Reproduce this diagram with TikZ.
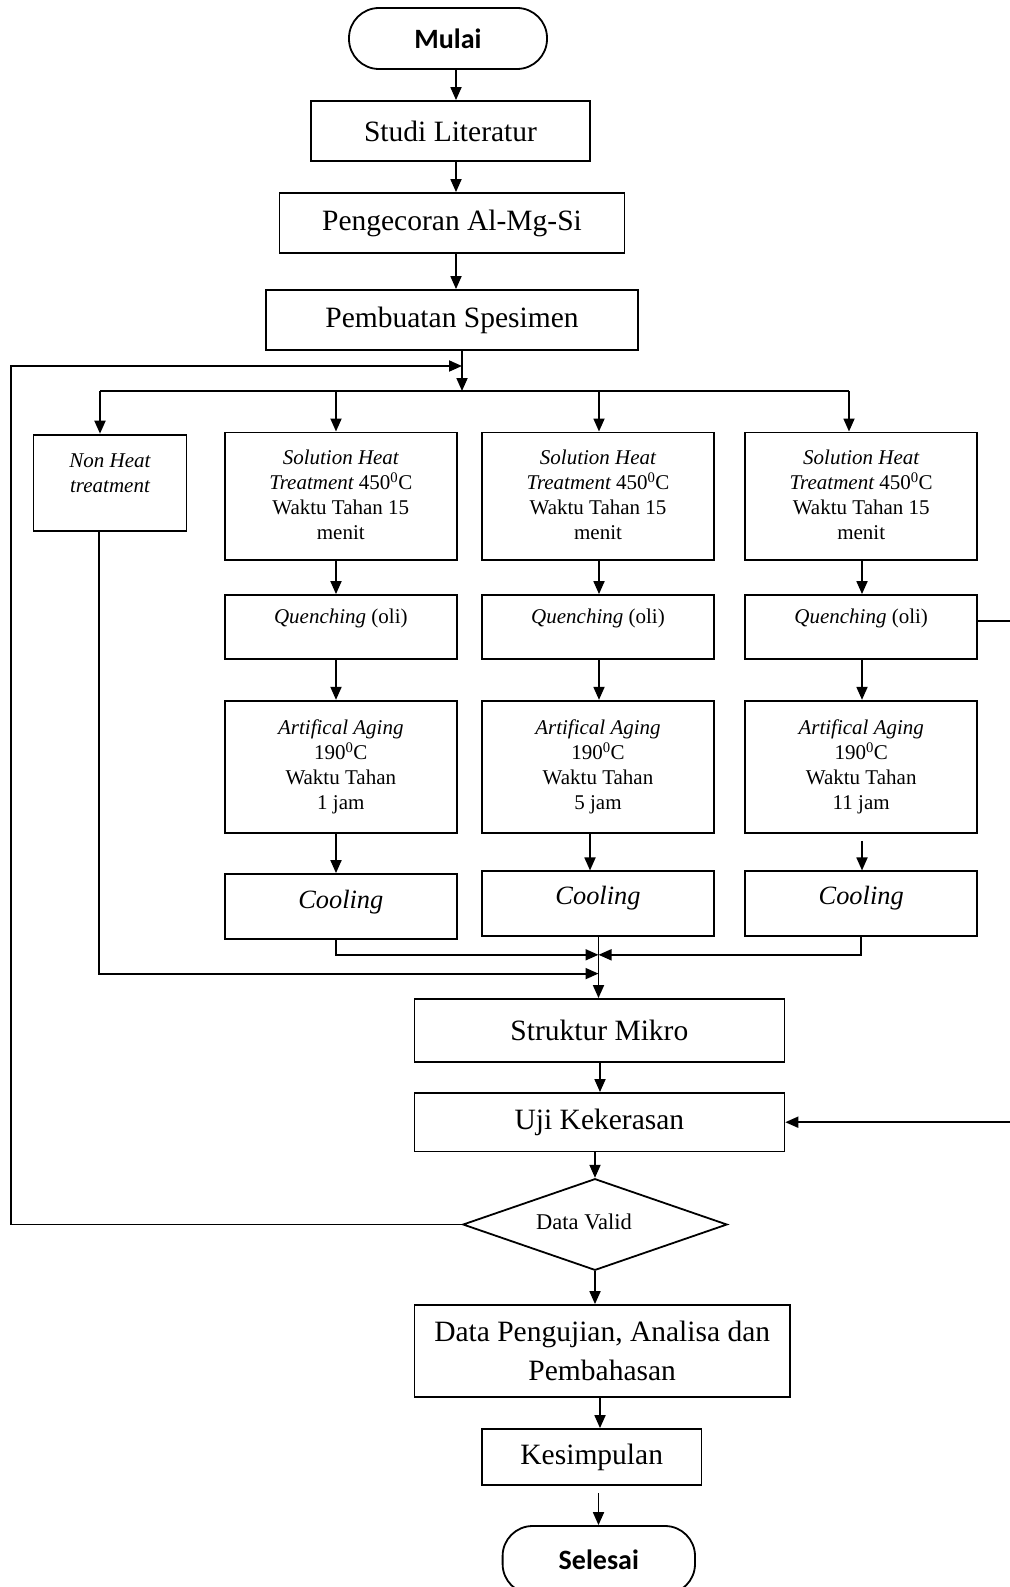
\documentclass[tikz,border=0pt]{standalone}
\usepackage{fontspec}
\setmainfont{Liberation Serif}
\newfontfamily\calib{Carlito}
\usetikzlibrary{arrows.meta,shapes.geometric,calc}
\newcommand\dgs{\textsuperscript{0}}
\begin{document}
\begin{tikzpicture}[x=1pt,y=-1pt,
  ln/.style={line width=1.8pt},
  arr/.style={line width=1.8pt,-{Triangle[length=13pt,width=11pt]}},
  box/.style={draw,line width=1.8pt,inner sep=0pt,align=center},
  big/.style={font=\fontsize{29.5}{39}\selectfont},
  small/.style={font=\fontsize{21}{24.8}\selectfont,align=center},
  term/.style={draw,line width=1.8pt,rounded corners=30pt,inner sep=0pt,font=\calib\bfseries\fontsize{28}{32}\selectfont},
]
\useasboundingbox (0,0) rectangle (1009,1587);
\fill[white] (0,0) rectangle (1009,1587);

% main column
\node[term,minimum width=198pt,minimum height=61pt] (mulai) at (448,38.5) {Mulai};
\node[box,big,minimum width=279pt,minimum height=60pt] (studi) at (450.5,131) {Studi Literatur};
\node[box,big,minimum width=345pt,minimum height=60pt] (peng) at (452,223) {Pengecoran Al-Mg-Si};
\node[box,big,minimum width=372pt,minimum height=60pt] (pemb) at (452,320) {Pembuatan Spesimen};

% branches
\node[box,minimum width=153pt,minimum height=96.4pt] (nh) at (110,482.8) {};
\node[small] (nht) at (110,473) {\itshape Non Heat\\\itshape treatment};

\foreach \i/\x in {1/340.8,2/598,3/861.2}{
  \node[box,small,minimum width=232pt,minimum height=127.2pt] (sht\i) at (\x,496) {};
  \node[small] (shtt\i) at (\x,495) {{\itshape Solution Heat}\\{\itshape Treatment} 450\dgs C\\Waktu Tahan 15\\menit};
  \node[box,minimum width=232pt,minimum height=64pt] (q\i) at (\x,627) {};
  \node[small] (qt\i) at (\x,618.5) {{\itshape Quenching} (oli)};
}
\node[box,small,minimum width=232pt,minimum height=132.3pt] (a1) at (340.8,766.9) {\itshape Artifical Aging\\190\dgs C\\Waktu Tahan\\1 jam};
\node[box,small,minimum width=232pt,minimum height=132.3pt] (a2) at (598,766.9) {\itshape Artifical Aging\\190\dgs C\\Waktu Tahan\\5 jam};
\node[box,small,minimum width=232pt,minimum height=132.3pt] (a3) at (861.2,766.9) {\itshape Artifical Aging\\190\dgs C\\Waktu Tahan\\11 jam};

\node[box,minimum width=232pt,minimum height=64.6pt] (c1) at (340.8,906.3) {};
\node[box,minimum width=232pt,minimum height=64.3pt] (c2) at (598,903.5) {};
\node[box,minimum width=232pt,minimum height=64.3pt] (c3) at (861.2,903.5) {};
\node[font=\itshape\fontsize{26.4}{30}\selectfont] (ct1) at (340.8,902) {Cooling};
\node[font=\itshape\fontsize{26.4}{30}\selectfont] (ct2) at (598,898) {Cooling};
\node[font=\itshape\fontsize{26.4}{30}\selectfont] (ct3) at (861.2,898) {Cooling};

\node[box,big,minimum width=370pt,minimum height=62.7pt] (struk) at (599.4,1030.3) {Struktur Mikro};
\node[box,big,minimum width=370pt,minimum height=58.5pt] (uji) at (599.4,1122.2) {Uji Kekerasan};
\node[draw,diamond,line width=1.8pt,aspect=2.88,inner sep=0pt,minimum width=264.3pt,minimum height=91.6pt] (dv) at (595,1224.5) {};
\node[font=\fontsize{22.5}{26}\selectfont] (dvt) at (584,1222) {Data Valid};
\node[box,big,minimum width=375.6pt,minimum height=92pt] (dp) at (602.2,1351) {Data Pengujian, Analisa dan\\Pembahasan};
\node[box,big,minimum width=219.4pt,minimum height=56pt] (kes) at (591.7,1457) {Kesimpulan};
\node[term,minimum width=192.4pt,minimum height=68pt] (sel) at (598.8,1560) {Selesai};

% connectors main
\draw[arr] (mulai.south -| 456,0) -- (studi.north -| 456,0);
\draw[arr] (studi.south -| 456,0) -- (peng.north -| 456,0);
\draw[arr] (peng.south -| 456,0) -- (pemb.north -| 456,0);
\coordinate (br) at (462,391);
\coordinate (brL) at (100,391);
\coordinate (brR) at (849,391);
\draw[arr] (pemb.south -| br) -- (br);
\draw[ln] (brL) -- (brR);
\draw[arr] (brL) -- (nh.north -| brL);
\draw[arr] (336,391) -- (sht1.north -| 336,0);
\draw[arr] (599,391) -- (sht2.north -| 599,0);
\draw[arr] (brR) -- (sht3.north -| brR);

\draw[arr] (sht1.south -| 336,0) -- (q1.north -| 336,0);
\draw[arr] (sht2.south -| 599,0) -- (q2.north -| 599,0);
\draw[arr] (sht3.south -| 862,0) -- (q3.north -| 862,0);
\draw[arr] (q1.south -| 336,0) -- (a1.north -| 336,0);
\draw[arr] (q2.south -| 599,0) -- (a2.north -| 599,0);
\draw[arr] (q3.south -| 862,0) -- (a3.north -| 862,0);
\draw[arr] (a1.south -| 336,0) -- (c1.north -| 336,0);
\draw[arr] (a2.south -| 590,0) -- (c2.north -| 590,0);
\draw[arr] ($(a3.south -| 862,0)+(0,7)$) -- (c3.north -| 862,0);

% merge
\coordinate (mg) at (598.5,954.8);
\coordinate (mg2) at (598.5,973.6);
\draw[arr] (c1.south -| 336,0) -- (336,954.8) -- (mg);
\draw[arr] (c3.south -| 861,0) -- (861,954.8) -- (mg);
\draw[arr] (nh.south -| 99,0) -- (99,973.6) -- (mg2);
\draw[arr] (c2.south -| mg) -- (struk.north -| mg);

\draw[arr] (struk.south -| 600,0) -- (uji.north -| 600,0);
\draw[arr] (dv.north |- uji.south) -- (dv.north);
\draw[arr] (dv.south) -- (dp.north -| dv.south);
\draw[arr] (dp.south -| 600,0) -- (kes.north -| 600,0);
\draw[arr] ($(kes.south -| 598.5,0)+(0,7.5)$) -- (sel.north -| 598.5,0);

% loop back
\draw[arr] (dv.west) -- (11,1224.5) -- (11,366) -- (462,366);
% right side
\draw[arr] (q3.east |- 0,621) -- (1012,621) -- (1012,1122.2) -- (uji.east);
\end{tikzpicture}
\end{document}
